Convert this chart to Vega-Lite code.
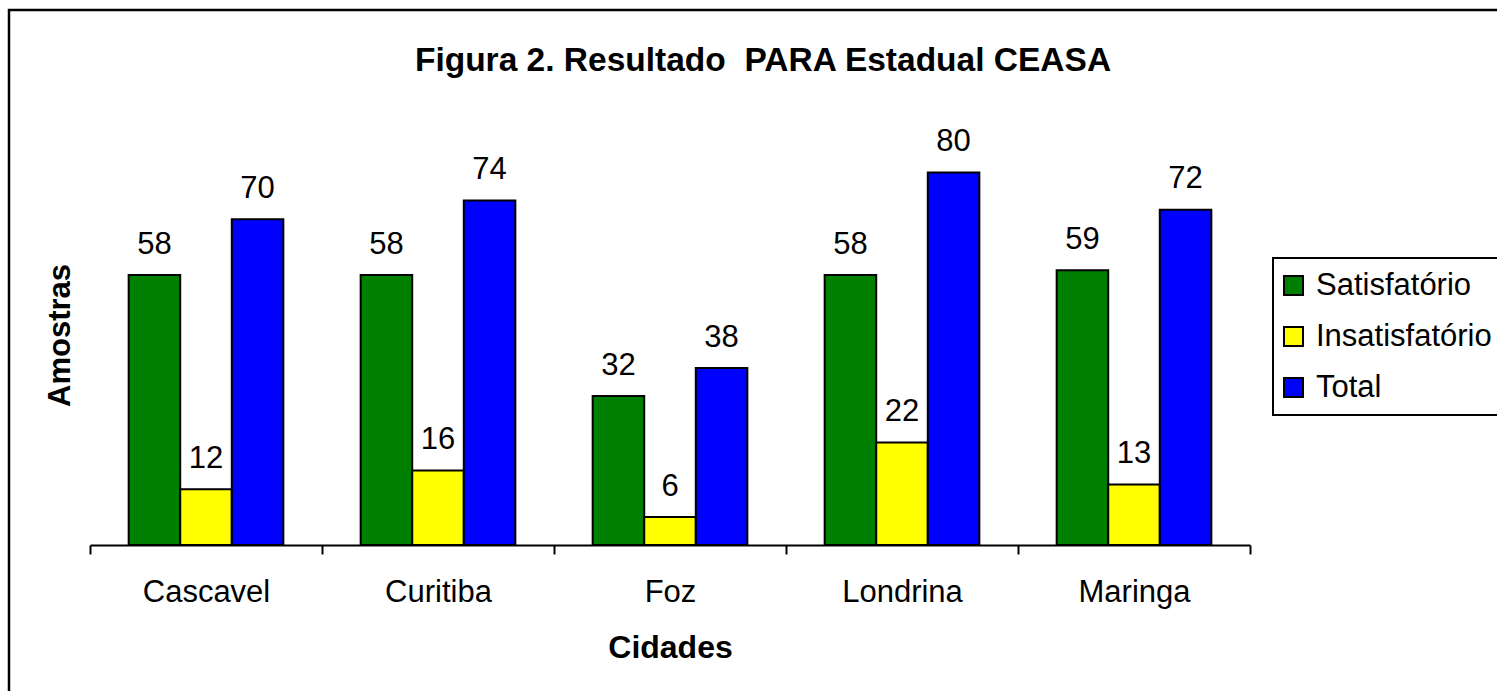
{
  "$schema": "https://vega.github.io/schema/vega-lite/v6.json",
  "width": 1500,
  "height": 700,
  "autosize": {"type": "none"},
  "padding": {"left": 9, "top": 10, "right": -12, "bottom": -19},
  "background": "white",
  "title": {
    "text": "Figura 2. Resultado \u00a0PARA Estadual CEASA",
    "anchor": "middle",
    "font": "Liberation Sans",
    "fontSize": 33.5,
    "fontWeight": "bold",
    "color": "black",
    "baseline": "alphabetic",
    "offset": 0,
    "dy": 94,
    "dx": 4
  },
  "config": {
    "view": {"stroke": "black", "strokeWidth": 2.5, "fill": "white"},
    "font": "Liberation Sans"
  },
  "data": {
    "values": [
      {"cidade": "Cascavel", "serie": "Satisfatório", "valor": 58},
      {"cidade": "Cascavel", "serie": "Insatisfatório", "valor": 12},
      {"cidade": "Cascavel", "serie": "Total", "valor": 70},
      {"cidade": "Curitiba", "serie": "Satisfatório", "valor": 58},
      {"cidade": "Curitiba", "serie": "Insatisfatório", "valor": 16},
      {"cidade": "Curitiba", "serie": "Total", "valor": 74},
      {"cidade": "Foz", "serie": "Satisfatório", "valor": 32},
      {"cidade": "Foz", "serie": "Insatisfatório", "valor": 6},
      {"cidade": "Foz", "serie": "Total", "valor": 38},
      {"cidade": "Londrina", "serie": "Satisfatório", "valor": 58},
      {"cidade": "Londrina", "serie": "Insatisfatório", "valor": 22},
      {"cidade": "Londrina", "serie": "Total", "valor": 80},
      {"cidade": "Maringa", "serie": "Satisfatório", "valor": 59},
      {"cidade": "Maringa", "serie": "Insatisfatório", "valor": 13},
      {"cidade": "Maringa", "serie": "Total", "valor": 72}
    ]
  },
  "encoding": {
    "x": {
      "field": "cidade",
      "type": "nominal",
      "sort": null,
      "scale": {"range": [81, 1241], "paddingInner": 0, "paddingOuter": 0},
      "axis": {
        "title": "Cidades",
        "titleFont": "Liberation Sans",
        "titleFontSize": 32,
        "titleFontWeight": "bold",
        "titleColor": "black",
        "titleBaseline": "alphabetic",
        "titleY": 112,
        "labelAngle": 0,
        "labelFont": "Liberation Sans",
        "labelFontSize": 31,
        "labelColor": "black",
        "labelPadding": 23,
        "labelBaseline": "top",
        "offset": -165,
        "domainColor": "black",
        "domainWidth": 2,
        "tickColor": "black",
        "tickWidth": 2,
        "tickSize": 9,
        "tickBand": "extent",
        "grid": false
      }
    },
    "xOffset": {
      "field": "serie",
      "type": "nominal",
      "sort": ["Satisfatório", "Insatisfatório", "Total"],
      "scale": {"paddingInner": 0, "paddingOuter": 0.75}
    },
    "y": {
      "field": "valor",
      "type": "quantitative",
      "scale": {"domain": [0, 100], "range": [535, 69.5], "nice": false, "zero": true},
      "axis": {
        "title": "Amostras",
        "titleFont": "Liberation Sans",
        "titleFontSize": 31,
        "titleFontWeight": "bold",
        "titleColor": "black",
        "titleBaseline": "alphabetic",
        "titleX": 60,
        "titleY": 325,
        "domain": false,
        "ticks": false,
        "labels": false,
        "grid": false
      }
    }
  },
  "layer": [
    {
      "mark": {"type": "bar", "stroke": "black", "strokeWidth": 2},
      "encoding": {
        "color": {
          "field": "serie",
          "type": "nominal",
          "scale": {
            "domain": ["Satisfatório", "Insatisfatório", "Total"],
            "range": ["#008000", "#FFFF00", "#0000FF"]
          },
          "legend": {
            "title": null,
            "orient": "none",
            "legendX": 1264,
            "legendY": 248,
            "fillColor": "white",
            "strokeColor": "black",
            "padding": 12,
            "symbolType": "square",
            "symbolSize": 361,
            "symbolOffset": -7,
            "symbolStrokeColor": "black",
            "symbolStrokeWidth": 2,
            "symbolOpacity": 1,
            "labelFont": "Liberation Sans",
            "labelFontSize": 31,
            "labelColor": "black",
            "labelOffset": 7,
            "rowPadding": 19,
            "labelLimit": 400,
            "labelExpr": "datum.label + '\u00a0\u00a0\u00a0'",
            "encode": {
              "legend": {"update": {"strokeWidth": {"value": 2}}}
            }
          }
        }
      }
    },
    {
      "mark": {
        "type": "text",
        "font": "Liberation Sans",
        "fontSize": 31,
        "color": "black",
        "baseline": "alphabetic",
        "align": "center",
        "dy": -21.5
      },
      "encoding": {
        "text": {"field": "valor", "type": "quantitative"}
      }
    }
  ]
}
